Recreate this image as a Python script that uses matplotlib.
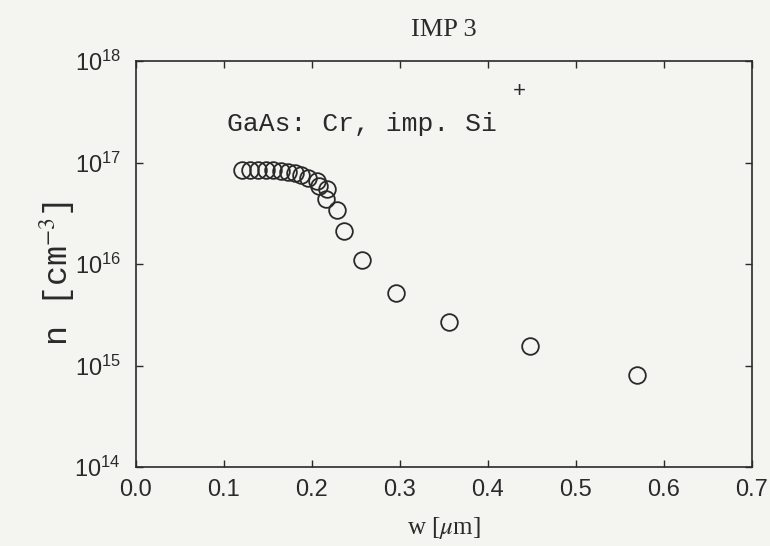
import numpy as np
import matplotlib
matplotlib.use("Agg")
import matplotlib.pyplot as plt
from matplotlib.ticker import NullLocator, LogLocator

# datos (w en um, n en cm^-3)
w = [0.120, 0.130, 0.139, 0.148, 0.156, 0.165, 0.173, 0.181, 0.188, 0.195,
     0.206, 0.208, 0.217, 0.216, 0.228, 0.236, 0.257, 0.296, 0.356, 0.448, 0.569]
n = [8.4e16, 8.5e16, 8.5e16, 8.5e16, 8.4e16, 8.2e16, 8.0e16, 7.8e16, 7.5e16, 7.0e16,
     6.6e16, 5.9e16, 5.5e16, 4.4e16, 3.4e16, 2.1e16, 1.09e16, 5.2e15, 2.7e15, 1.55e15, 8.1e14]

xticks = [0.0, 0.1, 0.2, 0.3, 0.4, 0.5, 0.6, 0.7]

plt.rcParams['font.family'] = ['Liberation Sans', 'DejaVu Sans']
plt.rcParams['mathtext.fontset'] = 'stix'

fondo = '#f4f4f1'
tinta = '#2a2a2a'

fig = plt.figure(figsize=(7.7, 5.46), dpi=100, facecolor=fondo)
ax = fig.add_axes([0.1766, 0.1447, 0.80, 0.7435])
ax.set_facecolor(fondo)

ax.plot(w, n, 'o', markersize=12, markerfacecolor='none',
        markeredgecolor=tinta, markeredgewidth=1.3)

ax.set_yscale('log')
ax.set_xlim(0, 0.7)
ax.set_ylim(1e14, 1e18)
ax.set_xticks(xticks)
ax.set_xticklabels(['%.1f' % t for t in xticks])
ax.yaxis.set_major_locator(LogLocator(base=10, numticks=10))
ax.yaxis.set_minor_locator(NullLocator())

ax.tick_params(direction='in', length=5, width=1.0, colors=tinta,
               top=True, right=True, labelsize=17)
ax.tick_params(axis='x', pad=9)
ax.tick_params(axis='y', pad=11)
for s in ax.spines.values():
    s.set_linewidth(1.2)
    s.set_color(tinta)

ax.set_title('IMP 3', family='Liberation Serif', fontsize=19, pad=18, color=tinta)
ax.set_xlabel(r'w [$\mu$m]', family='Liberation Serif', fontsize=18, labelpad=10, color=tinta)
fig.text(0.074, 0.50, r'n [cm$^{-3}$]', rotation=90, ha='center', va='center',
         family='Liberation Mono', fontsize=24, color=tinta)

ax.text(0.148, 0.845, 'GaAs: Cr, imp. Si', transform=ax.transAxes,
        family='Liberation Mono', fontsize=19, color=tinta, va='center')
ax.text(0.623, 0.924, '+', transform=ax.transAxes, family='Liberation Sans',
        fontsize=16, color=tinta, ha='center', va='center')

fig.savefig('out.png', dpi=100, facecolor=fondo)
